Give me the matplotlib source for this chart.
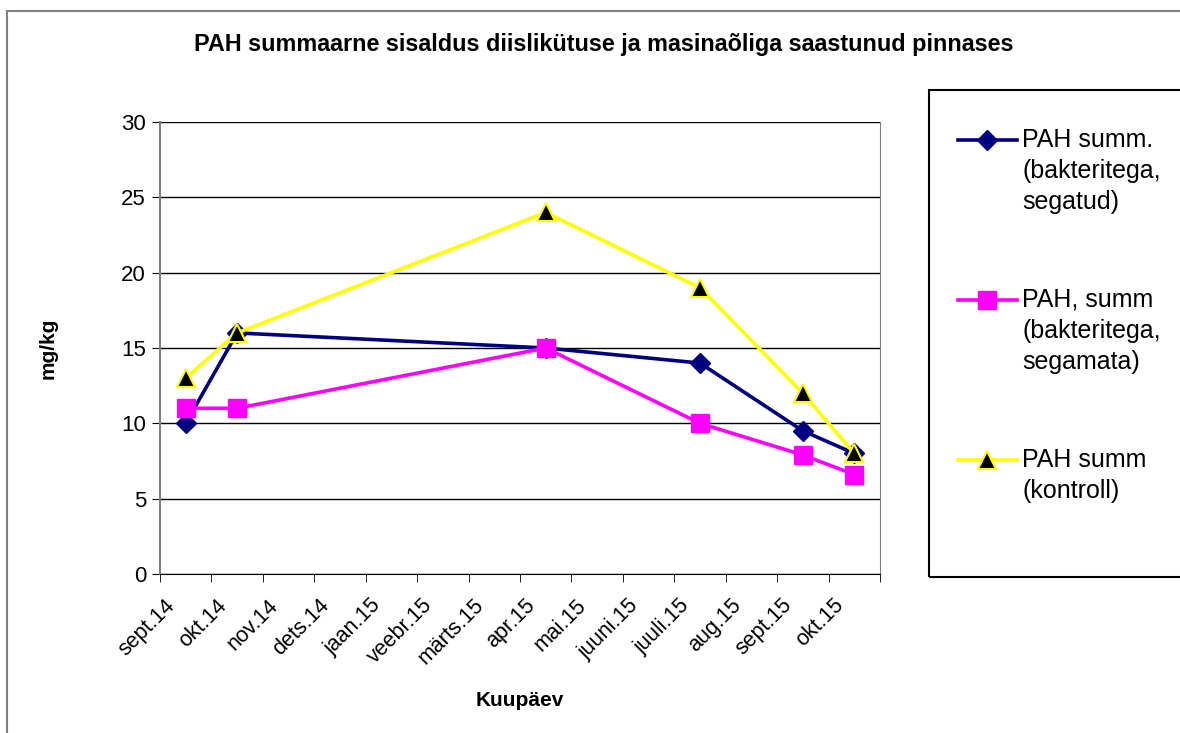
import matplotlib
matplotlib.use('Agg')
import matplotlib.pyplot as plt
import matplotlib.patches as patches
import matplotlib.transforms as mtransforms
from matplotlib.lines import Line2D
import numpy as np

plt.rcParams['font.family'] = ['Liberation Sans', 'DejaVu Sans']

# months on the category axis
months = ['sept.14', 'okt.14', 'nov.14', 'dets.14', 'jaan.15', 'veebr.15', 'märts.15',
          'apr.15', 'mai.15', 'juuni.15', 'juuli.15', 'aug.15', 'sept.15', 'okt.15']
# sampling months (index into months)
sample_idx = [0, 1, 7, 10, 12, 13]

segatud = [10, 16, 15, 14, 9.5, 8]
segamata = [11, 11, 15, 10, 7.9, 6.6]
kontroll = [13, 16, 24, 19, 12, 8]

labels = ['PAH summ.\n(bakteritega,\nsegatud)',
          'PAH, summ\n(bakteritega,\nsegamata)',
          'PAH summ\n(kontroll)']

W, H = 1180, 733
fig = plt.figure(figsize=(W/100, H/100), dpi=100)
ax = fig.add_axes([160/W, 1-574/H, 720/W, 452/H])

x = np.array(sample_idx) + 0.5
styles = [dict(color='#000080', marker='D', ms=10, mfc='#000080', mec='#000080'),
          dict(color='#FF00FF', marker='s', ms=13, mfc='#FF00FF', mec='#FF00FF'),
          dict(color='#FFFF00', marker='^', ms=13, mfc='black', mec='#FFFF00', mew=1.5)]
for vals, st in zip([segatud, segamata, kontroll], styles):
    ax.plot(x, vals, lw=2.6, **st)

ax.set_xlim(0, len(months))
ax.set_ylim(0, 30)
ax.set_yticks(range(0, 31, 5))
ax.yaxis.grid(True, color='black', lw=1)
ax.set_axisbelow(True)

ax.set_xticks(np.arange(len(months)) + 0.5)
ax.set_xticklabels(months, rotation=45, ha='right', rotation_mode='anchor')
ax.set_xticks(np.arange(len(months) + 1), minor=True)
ax.tick_params(axis='x', which='major', length=0, pad=15, labelsize=15.5)
ax.tick_params(axis='x', which='minor', length=6, direction='out', color='black')
ax.tick_params(axis='y', length=6, direction='out', labelsize=16, pad=4)
# excel puts the rotated labels left of the category centre
shift = mtransforms.ScaledTranslation(-0.21, 0, fig.dpi_scale_trans)
for lab in ax.get_xticklabels():
    lab.set_transform(lab.get_transform() + shift)

ax.spines['top'].set_visible(False)
ax.spines['right'].set_color('#808080')
ax.spines['left'].set_color('#808080')
ax.spines['left'].set_linewidth(1.5)
ax.spines['bottom'].set_color('black')

ax.set_ylabel('mg/kg', fontsize=15, fontweight='bold')
ax.yaxis.set_label_coords(-0.142, 0.5)
ax.set_xlabel('Kuupäev', fontsize=15, fontweight='bold')
ax.xaxis.set_label_coords(0.5, -0.258)

fig.text(604/W, 1-45/H, 'PAH summaarne sisaldus diislikütuse ja masinaõliga saastunud pinnases',
         ha='center', va='center', fontsize=16.8, fontweight='bold')

# outer chart border and legend box
fig.patches.append(patches.Rectangle((7/W, -0.1), 1.2, 1.1 - 11/H,
                                     transform=fig.transFigure, fill=False,
                                     ec='#808080', lw=1.5, clip_on=False))
fig.patches.append(patches.Rectangle((929/W, 1-577/H), 0.3, (577-90)/H,
                                     transform=fig.transFigure, fill=False,
                                     ec='black', lw=1.5, clip_on=False))

# legend drawn by hand, handle level with the first text line like excel
entry_y = [140, 300, 460]
for yy, st, lab in zip(entry_y, styles, labels):
    fy = 1 - yy/H
    fig.add_artist(Line2D([958/W, 987/W, 1017/W], [fy, fy, fy], transform=fig.transFigure,
                          lw=2.6, markevery=[1], **st))
    fig.text(1022/W, fy + 12/H, lab, ha='left', va='top', fontsize=18,
             linespacing=1.36)

fig.savefig('out.png', dpi=100)
